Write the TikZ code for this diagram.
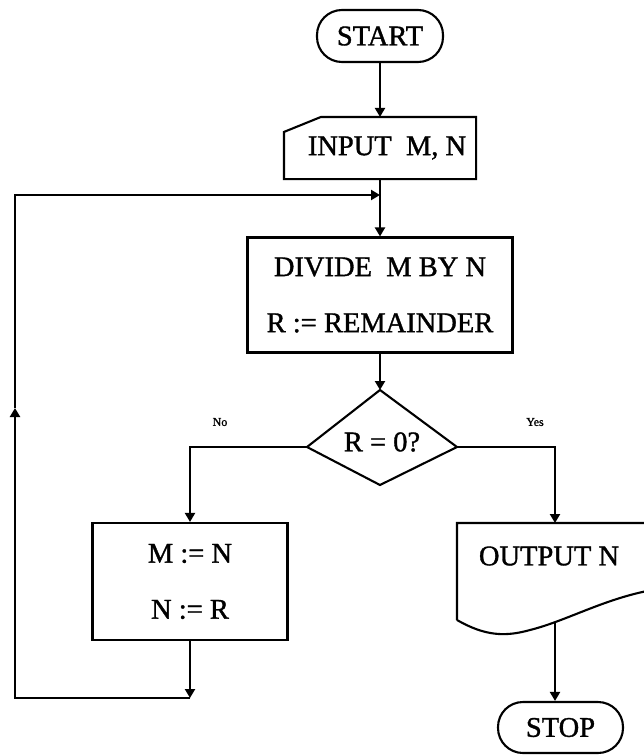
\documentclass[tikz,border=0pt]{standalone}
\usepackage{fontspec}
\setmainfont{Liberation Serif}
\newfontfamily\heavy{Liberation Serif}[FakeBold=1.2]
\usetikzlibrary{arrows.meta}
\begin{document}
\begin{tikzpicture}[x=1pt,y=-1pt,
  line width=2.1pt,
  arr/.style={-{Triangle[length=9pt,width=10pt]}},
  term/.style={draw, rounded corners=25pt, inner sep=0pt},
  box/.style={draw, inner sep=0pt, align=center},
  txt/.style={font=\heavy\fontsize{28.5}{56}\selectfont},
  lbl/.style={font=\heavy\fontsize{12}{14}\selectfont}]
\useasboundingbox (0,0) rectangle (644,755);
\clip (0,0) rectangle (644,755);
% START
\node[term, txt, minimum width=126pt, minimum height=52pt] (start) at (380,36) {START};
% INPUT
\node[minimum width=190pt, minimum height=60pt, inner sep=0pt] (inp) at (380,148) {};
\draw ([yshift=-15pt]inp.north west) -- ([xshift=37pt]inp.north west) -- (inp.north east) -- (inp.south east) -- (inp.south west) -- cycle;
\node[txt] (inptext) at (387,148) {INPUT\ \ M, N};
% DIVIDE
\node[box, txt, minimum width=265pt, minimum height=115pt] (div) at (380,295) {DIVIDE\ \ M BY N\\R := REMAINDER};
% decision
\coordinate (dt) at (380,390);
\coordinate (dl) at (307,447);
\coordinate (dr) at (457,447);
\coordinate (db) at (380,485);
\draw (dt) -- (dr) -- (db) -- (dl) -- cycle;
\node[txt] (dec) at (382,442) {R = 0?};
% M := N box
\node[box, txt, minimum width=195pt, minimum height=117pt] (mn) at (190,581.5) {M := N\\N := R};
% OUTPUT
\coordinate (otl) at (457,523);
\coordinate (otr) at (665,523);
\coordinate (obr) at (665,588);
\coordinate (obl) at (457,620);
\coordinate (otop) at (555,523);
\coordinate (obot) at (555,622);
\draw (obl) -- (otl) -- (otr) -- (obr) .. controls (610,595) and (570,620) .. (530,630) .. controls (505,637) and (485,636) .. (obl);
\node[txt] (out) at (549,556) {OUTPUT N};
% STOP
\node[term, txt, minimum width=125pt, minimum height=51pt] (stop) at (560.5,727.5) {STOP};
% labels
\node[lbl] (no) at (220,422) {No};
\node[lbl] (yes) at (535,422) {Yes};
% connectors
\coordinate (join) at (380,195);
\coordinate (lb) at (190,698);
\coordinate (ll) at (15,698);
\coordinate (lmid) at (15,408);
\coordinate (lt) at (15,195);
\draw[arr] (start.south) -- (inp.north);
\draw[arr] (inp.south) -- (div.north);
\draw[arr] (div.south) -- (dt);
\draw[arr] (dl) -| (mn.north);
\draw[arr] (dr) -| (otop);
\draw[arr] (obot) -- (obot |- stop.north);
\draw[arr] (mn.south) -- (lb);
\draw[arr] (lb) -- (ll) -- (lmid);
\draw[arr] (lmid) -- (lt) -- (join);
\end{tikzpicture}
\end{document}
